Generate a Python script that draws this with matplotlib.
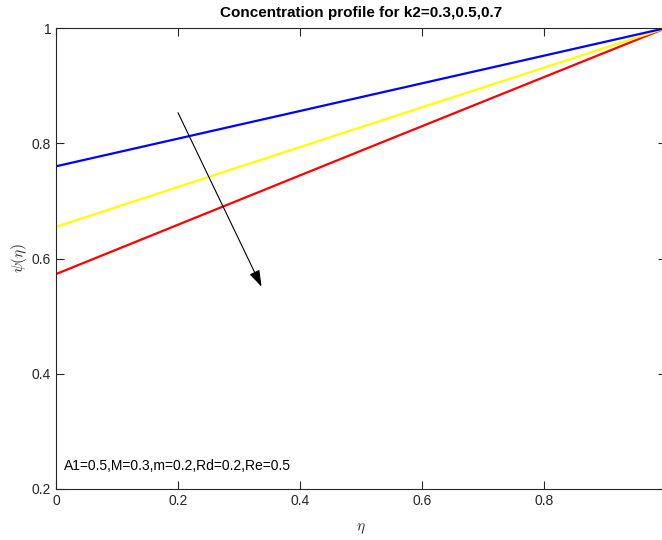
import numpy as np
import matplotlib.pyplot as plt

plt.rcParams['font.family'] = ['Liberation Sans', 'DejaVu Sans']
plt.rcParams['mathtext.fontset'] = 'cm'

# concentration profile psi(eta) for the three k2 cases
eta = [0.0, 0.5, 1.0]
psi_k2_03 = [0.760, 0.880, 1.0]
psi_k2_05 = [0.655, 0.828, 1.0]
psi_k2_07 = [0.573, 0.787, 1.0]

fig = plt.figure(figsize=(6.62, 5.40), dpi=100)
ax = fig.add_axes([56/662, 51/540, 610/662, 461/540])

ax.plot(eta, psi_k2_07, color=(1, 0, 0), lw=1.6)
ax.plot(eta, psi_k2_05, color=(1, 1, 0), lw=1.6)
ax.plot(eta, psi_k2_03, color=(0, 0, 1), lw=1.6)

# arrow showing the direction of increasing k2
ax.annotate('', xy=(0.337, 0.551), xytext=(0.200, 0.853),
            arrowprops=dict(arrowstyle='-|>,head_length=1.0,head_width=0.33',
                            color='black', lw=0.8, shrinkA=0, shrinkB=0))

ax.text(0.013, 0.233, 'A1=0.5,M=0.3,m=0.2,Rd=0.2,Re=0.5', fontsize=10, color='black')

ax.set_xlim(0, 1)
ax.set_ylim(0.2, 1)
ax.set_xticks([0, 0.2, 0.4, 0.6, 0.8])
ax.set_xticklabels(['0', '0.2', '0.4', '0.6', '0.8'])
ax.set_yticks([0.2, 0.4, 0.6, 0.8, 1])
ax.set_yticklabels(['0.2', '0.4', '0.6', '0.8', '1'])
ax.tick_params(direction='in', top=True, right=True, labelsize=10,
               colors='#262626', length=6, width=0.8)
for s in ax.spines.values():
    s.set_color('#262626')
    s.set_linewidth(0.8)

ax.set_title('Concentration profile for k2=0.3,0.5,0.7', fontsize=11, fontweight='bold', pad=8)
ax.set_xlabel(r'$\eta$', fontsize=11, color='#262626', labelpad=10)
ax.set_ylabel(r'$\psi(\eta)$', fontsize=11, color='#262626', labelpad=2)

fig.savefig('out.png', dpi=100)
